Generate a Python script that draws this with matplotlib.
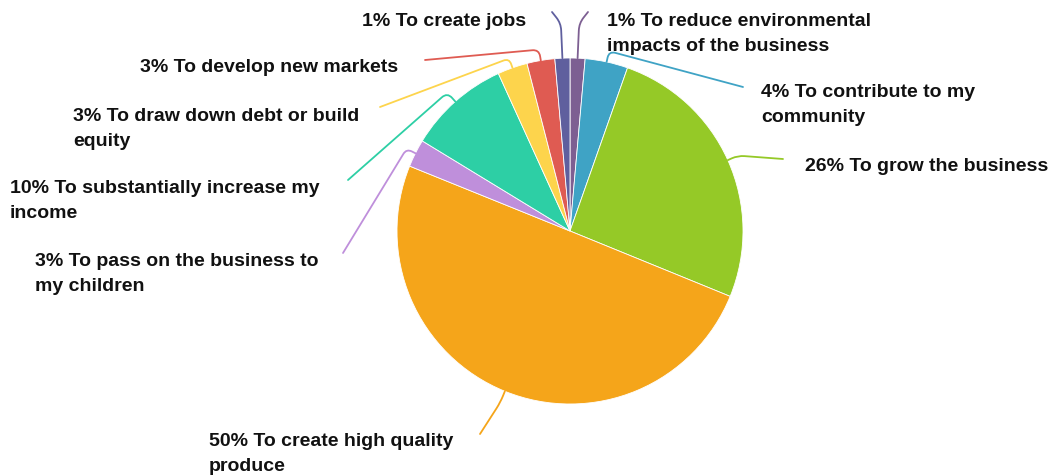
import matplotlib
matplotlib.use("Agg")
import matplotlib.pyplot as plt
import numpy as np
from matplotlib.path import Path
from matplotlib.patches import PathPatch

# ---- data (clockwise from 12 o'clock) ----
categories = [
    "To reduce environmental\nimpacts of the business",
    "To contribute to my\ncommunity",
    "To grow the business",
    "To create high quality\nproduce",
    "To pass on the business to\nmy children",
    "To substantially increase my\nincome",
    "To draw down debt or build\nequity",
    "To develop new markets",
    "To create jobs",
]
values = [1.4, 4.0, 25.8, 50.0, 2.6, 9.5, 2.8, 2.6, 1.4]
pct_labels = ["1%", "4%", "26%", "50%", "3%", "10%", "3%", "3%", "1%"]
colors = ["#7D5F92", "#3FA3C5", "#95C927", "#F5A51A", "#BF8FDB",
          "#2DCFA5", "#FDD44C", "#DF5B52", "#5F5F9E"]

# ---- layout (pixel coords, y downward) ----
W, H = 1058, 476
cx, cy, R = 570, 231, 173
label_xy = [(607, 26), (761, 97), (805, 171), (209, 446), (35, 266),
            (10, 193), (73, 121), (140, 72), (362, 26)]
line_end = [(588, 12), (743, 87), (783, 159), (480, 434), (343, 253),
            (348, 180), (380, 107), (425, 60), (552, 12)]
bend_len = [35, 11, 11, 12, 10, 12, 10, 11, 35]
line_gap = 25
fs = 14.0

fig = plt.figure(figsize=(W / 100, H / 100), dpi=100)
ax = fig.add_axes([0, 0, 1, 1])
ax.pie(values, colors=colors, startangle=-90, counterclock=True,
       center=(cx, cy), radius=R,
       wedgeprops=dict(edgecolor="white", linewidth=0.6))
ax.set_xlim(0, W)
ax.set_ylim(H, 0)
ax.set_aspect("equal")
ax.axis("off")

total = sum(values)
cum = 0.0
for i, v in enumerate(values):
    a = np.deg2rad(360.0 * (cum + v / 2) / total)
    cum += v
    ux, uy = np.sin(a), -np.cos(a)
    p0 = np.array([cx + R * ux, cy + R * uy])
    p1 = np.array([cx + (R + bend_len[i]) * ux, cy + (R + bend_len[i]) * uy])
    p2 = np.array(line_end[i], dtype=float)
    d1 = p1 - p0
    d2 = p2 - p1
    r = min(8.0, 0.6 * np.linalg.norm(d1), 0.5 * np.linalg.norm(d2))
    a1 = p1 - d1 / np.linalg.norm(d1) * r
    a2 = p1 + d2 / np.linalg.norm(d2) * r
    path = Path([p0, a1, p1, a2, p2],
                [Path.MOVETO, Path.LINETO, Path.CURVE3, Path.CURVE3, Path.LINETO])
    ax.add_patch(PathPatch(path, facecolor="none", edgecolor=colors[i],
                           linewidth=1.3, capstyle="round"))
    text = pct_labels[i] + " " + categories[i]
    lx, ly = label_xy[i]
    for k, line in enumerate(text.split("\n")):
        ax.text(lx, ly + k * line_gap, line, fontsize=fs, fontweight="bold",
                family=["Liberation Sans", "DejaVu Sans"], color="#111111",
                ha="left", va="baseline")

fig.savefig("out.png", dpi=100)
